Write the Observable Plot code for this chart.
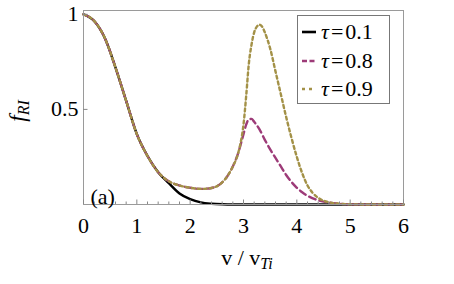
<!DOCTYPE html>
<html>
<head>
<meta charset="utf-8">
<script src="https://cdn.jsdelivr.net/npm/d3@7"></script>
<script src="https://cdn.jsdelivr.net/npm/@observablehq/plot@0.6"></script>
<style>
  body { margin: 0; background: #fff; }
  #wrap { position: relative; width: 454px; height: 284px; font-family: "Liberation Serif", "DejaVu Serif", serif; }
  #wrap svg text { font-family: "Liberation Serif", "DejaVu Serif", serif; }
  #legend { position: absolute; left: 297px; top: 15px; width: 93px; height: 89px; border: 1px solid #777; background: #fff; box-sizing: border-box; }
  .row { position: absolute; left: 0; height: 28px; display: flex; align-items: center; font-size: 22px; white-space: nowrap; font-family: "Liberation Serif", "DejaVu Serif", serif; }
  .row svg { margin-left: 4px; margin-right: 5px; }
  .eq { margin: 0 2px; }
</style>
</head>
<body>
<div id="wrap"></div>
<script>
// ---- data ----
const seriesNames = ["τ=0.1", "τ=0.8", "τ=0.9"];
const seriesColors = ["#000000", "#9d3b78", "#a39147"];
const seriesDash = [null, "7,4", "3,3"];

const v01 = [0, 0.2, 0.4, 0.6, 0.8, 1.0, 1.2, 1.4, 1.6, 1.8, 2.0, 2.2, 2.4, 2.6, 2.8, 3.0, 4.0, 5.0, 6.0];
const f01 = [1, 0.965, 0.875, 0.72, 0.545, 0.37, 0.255, 0.17, 0.112, 0.058, 0.028, 0.011, 0.004, 0.001, 0, 0, 0, 0, 0];

const v08 = [0, 0.2, 0.4, 0.6, 0.8, 1.0, 1.2, 1.4, 1.6, 1.8, 2.0, 2.2, 2.4, 2.6, 2.7, 2.8, 2.9, 3.0, 3.05, 3.1, 3.15, 3.2, 3.3, 3.4, 3.5, 3.6, 3.7, 3.8, 3.9, 4.0, 4.1, 4.2, 4.4, 4.6, 4.8, 5.0, 5.5, 6.0];
const f08 = [1, 0.965, 0.875, 0.72, 0.545, 0.37, 0.255, 0.17, 0.122, 0.1, 0.088, 0.082, 0.087, 0.116, 0.15, 0.2, 0.27, 0.37, 0.42, 0.448, 0.45, 0.435, 0.395, 0.34, 0.29, 0.245, 0.2, 0.155, 0.118, 0.088, 0.064, 0.046, 0.022, 0.01, 0.004, 0.001, 0, 0];

const v09 = [0, 0.2, 0.4, 0.6, 0.8, 1.0, 1.2, 1.4, 1.6, 1.8, 2.0, 2.2, 2.4, 2.6, 2.7, 2.8, 2.9, 2.95, 3.0, 3.05, 3.1, 3.15, 3.2, 3.25, 3.3, 3.35, 3.4, 3.5, 3.6, 3.7, 3.8, 3.9, 4.0, 4.1, 4.2, 4.3, 4.4, 4.6, 4.8, 5.0, 5.5, 6.0];
const f09 = [1, 0.965, 0.875, 0.72, 0.545, 0.37, 0.255, 0.17, 0.122, 0.1, 0.088, 0.082, 0.087, 0.116, 0.15, 0.2, 0.27, 0.33, 0.42, 0.57, 0.74, 0.84, 0.905, 0.935, 0.945, 0.935, 0.905, 0.82, 0.7, 0.58, 0.46, 0.35, 0.25, 0.165, 0.1, 0.06, 0.035, 0.012, 0.004, 0.001, 0, 0];

const xTicks = [0, 1, 2, 3, 4, 5, 6];
const xMinorTicks = [0.2,0.4,0.6,0.8,1.2,1.4,1.6,1.8,2.2,2.4,2.6,2.8,3.2,3.4,3.6,3.8,4.2,4.4,4.6,4.8,5.2,5.4,5.6,5.8];
const yTicks = [0.5, 1];
const panelLabel = "(a)";

const toRows = (vs, fs) => vs.map((v, i) => ({ v, f: fs[i] }));
const d01 = toRows(v01, f01), d08 = toRows(v08, f08), d09 = toRows(v09, f09);

const font = "'Liberation Serif', 'DejaVu Serif', serif";
const plot = Plot.plot({
  width: 454, height: 284,
  marginLeft: 83, marginRight: 51, marginTop: 10, marginBottom: 80,
  style: { fontFamily: font, fontSize: "22px", background: "#fff", color: "#000", overflow: "visible" },
  x: { domain: [0, 6] },
  y: { domain: [0, 1.02] },
  marks: [
    Plot.line(d01, { x: "v", y: "f", stroke: seriesColors[0], strokeWidth: 2.4, curve: "monotone-x" }),
    Plot.line(d08, { x: "v", y: "f", stroke: seriesColors[1], strokeWidth: 2.4, strokeDasharray: seriesDash[1], curve: "monotone-x" }),
    Plot.line(d09, { x: "v", y: "f", stroke: seriesColors[2], strokeWidth: 2.4, strokeDasharray: seriesDash[2], curve: "monotone-x" }),
    Plot.frame({ stroke: "#9a9a9a", strokeWidth: 1 }),
    Plot.axisX(xMinorTicks, { tickSize: -2.5, text: null, stroke: "#888", label: null }),
    Plot.axisX(xTicks, { tickSize: -4.5, text: null, stroke: "#888", label: null }),
    Plot.axisX(xTicks, { tickSize: 0, tickPadding: 13, label: null, fontSize: 22, tickFormat: d => String(d) }),
    Plot.axisY(yTicks, { tickSize: -4.5, text: null, stroke: "#888", label: null }),
    Plot.axisY(yTicks, { tickSize: 0, tickPadding: 5, label: null, fontSize: 22, tickFormat: d => String(d) }),
    Plot.text([panelLabel], { text: d => d, frameAnchor: "bottom-left", dx: 7, dy: -1, lineAnchor: "bottom", textAnchor: "start", fontSize: 22 })
  ]
});

// axis titles with sub/italic parts
const svg = d3.select(plot);
const xs = plot.scale("x"), ys = plot.scale("y");
const xt = svg.append("text")
  .attr("x", xs.apply(3) + 4).attr("y", 265)
  .attr("text-anchor", "middle").attr("font-size", 22).attr("font-family", font);
xt.append("tspan").text("v / v");
xt.append("tspan").attr("font-style", "italic").attr("font-size", 16).attr("dy", 4).text("Ti");

const yt = svg.append("text")
  .attr("transform", `translate(25, ${ys.apply(0.5) + 2}) rotate(-90)`)
  .attr("text-anchor", "middle").attr("font-size", 23).attr("font-family", font);
yt.append("tspan").attr("font-style", "italic").text("f");
yt.append("tspan").attr("font-style", "italic").attr("font-size", 16).attr("dy", 4).text("RI");

const wrap = document.getElementById("wrap");
wrap.appendChild(plot);

// legend
const legend = document.createElement("div");
legend.id = "legend";
seriesNames.forEach((name, i) => {
  const row = document.createElement("div");
  row.className = "row";
  row.style.top = (2 + i * 28.5) + "px";
  const sw = d3.create("svg").attr("width", 14).attr("height", 10);
  sw.append("line").attr("x1", 0).attr("x2", 14).attr("y1", 5).attr("y2", 5)
    .attr("stroke", seriesColors[i]).attr("stroke-width", 2.6)
    .attr("stroke-dasharray", seriesDash[i] ? (i === 1 ? "5,2.5" : "3,4") : null);
  row.appendChild(sw.node());
  const [sym, val] = name.split("=");
  const t = document.createElement("span");
  t.innerHTML = `<i>${sym}</i><span class="eq">=</span>${val}`;
  row.appendChild(t);
  legend.appendChild(row);
});
wrap.appendChild(legend);
</script>
</body>
</html>
